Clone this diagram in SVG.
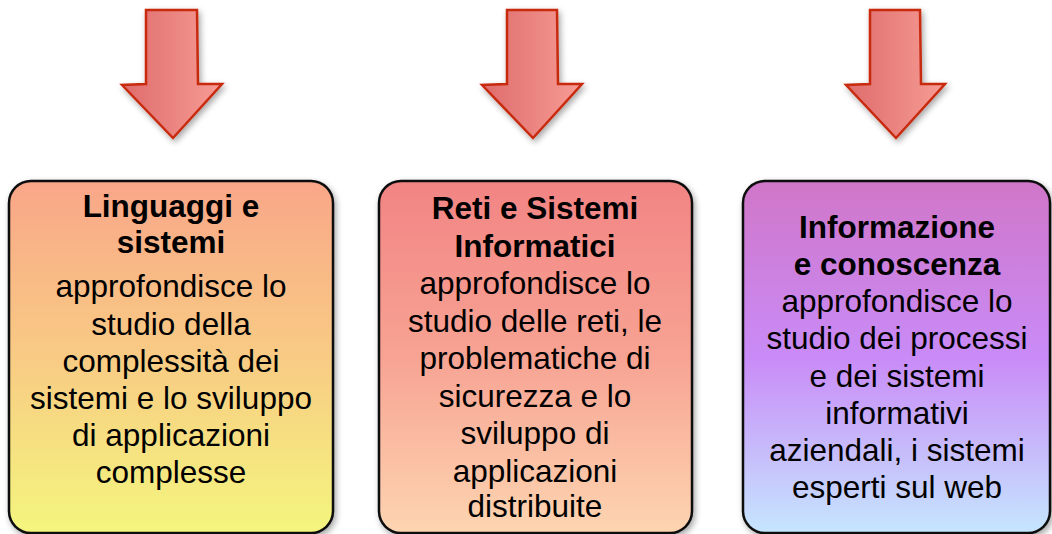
<svg xmlns="http://www.w3.org/2000/svg" width="1052" height="534" viewBox="0 0 1052 534">
<style>
.box{stroke:#111;stroke-width:2.5}
.arrow{stroke:#C82A10;stroke-width:2.5;stroke-linejoin:miter;fill:url(#ga)}
text{font-family:"Liberation Sans",Arial,sans-serif;fill:#000;text-anchor:middle}
.t{font-weight:bold;font-size:31.5px}
.b{font-size:31.5px}
</style>
<defs>
<filter id="sh" x="-10%" y="-10%" width="125%" height="125%">
<feDropShadow dx="2" dy="3" stdDeviation="3" flood-color="#000" flood-opacity="0.35"/>
</filter>
<linearGradient id="ga" x1="0" y1="0" x2="1" y2="0">
<stop offset="0" stop-color="#DE6C6C"/>
<stop offset="1" stop-color="#F79C94"/>
</linearGradient>
<linearGradient id="g1" x1="0" y1="0" x2="0" y2="1">
<stop offset="0" stop-color="#F9A688"/>
<stop offset="0.5" stop-color="#F8CB84"/>
<stop offset="1" stop-color="#F4F67E"/>
</linearGradient>
<linearGradient id="g2" x1="0" y1="0" x2="0" y2="1">
<stop offset="0" stop-color="#F28484"/>
<stop offset="0.5" stop-color="#F7A393"/>
<stop offset="1" stop-color="#FDD5B1"/>
</linearGradient>
<linearGradient id="g3" x1="0" y1="0" x2="0" y2="1">
<stop offset="0" stop-color="#D076C8"/>
<stop offset="0.5" stop-color="#C98BF7"/>
<stop offset="1" stop-color="#C5E6FE"/>
</linearGradient>
</defs>
<rect width="1052" height="534" fill="#fff"/>
<g id="connectors">
<path class="arrow" filter="url(#sh)" d="M146,10 L197,10 L198,84 L222,84 L173,138 L122,85 L146,84 Z"/>
<path class="arrow" filter="url(#sh)" d="M507,10 L557,10 L558,84 L582,84 L533,138 L482,85 L507,84 Z"/>
<path class="arrow" filter="url(#sh)" d="M870,10 L920,10 L921,84 L945,84 L896,138 L846,85 L870,84 Z"/>
</g>
<g id="node1">
<rect class="box" filter="url(#sh)" x="9" y="181" width="324" height="352" rx="22" fill="url(#g1)"/>
<text class="t" x="171" y="217">Linguaggi e</text>
<text class="t" x="171" y="253">sistemi</text>
<text class="b" x="171" y="297">approfondisce lo</text>
<text class="b" x="171" y="335">studio della</text>
<text class="b" x="171" y="372">complessità dei</text>
<text class="b" x="171" y="409">sistemi e lo sviluppo</text>
<text class="b" x="171" y="446">di applicazioni</text>
<text class="b" x="171" y="483">complesse</text>
</g>
<g id="node2">
<rect class="box" filter="url(#sh)" x="379" y="181" width="313" height="352" rx="22" fill="url(#g2)"/>
<text class="t" x="535" y="219">Reti e Sistemi</text>
<text class="t" x="535" y="257">Informatici</text>
<text class="b" x="535" y="294">approfondisce lo</text>
<text class="b" x="535" y="332">studio delle reti, le</text>
<text class="b" x="535" y="369">problematiche di</text>
<text class="b" x="535" y="407">sicurezza e lo</text>
<text class="b" x="535" y="444">sviluppo di</text>
<text class="b" x="535" y="482">applicazioni</text>
<text class="b" x="535" y="517">distribuite</text>
</g>
<g id="node3">
<rect class="box" filter="url(#sh)" x="743" y="181" width="307" height="352" rx="22" fill="url(#g3)"/>
<text class="t" x="897" y="238">Informazione</text>
<text class="t" x="897" y="275">e conoscenza</text>
<text class="b" x="897" y="312">approfondisce lo</text>
<text class="b" x="897" y="349">studio dei processi</text>
<text class="b" x="897" y="387">e dei sistemi</text>
<text class="b" x="897" y="424">informativi</text>
<text class="b" x="897" y="461">aziendali, i sistemi</text>
<text class="b" x="897" y="498">esperti sul web</text>
</g>
</svg>
